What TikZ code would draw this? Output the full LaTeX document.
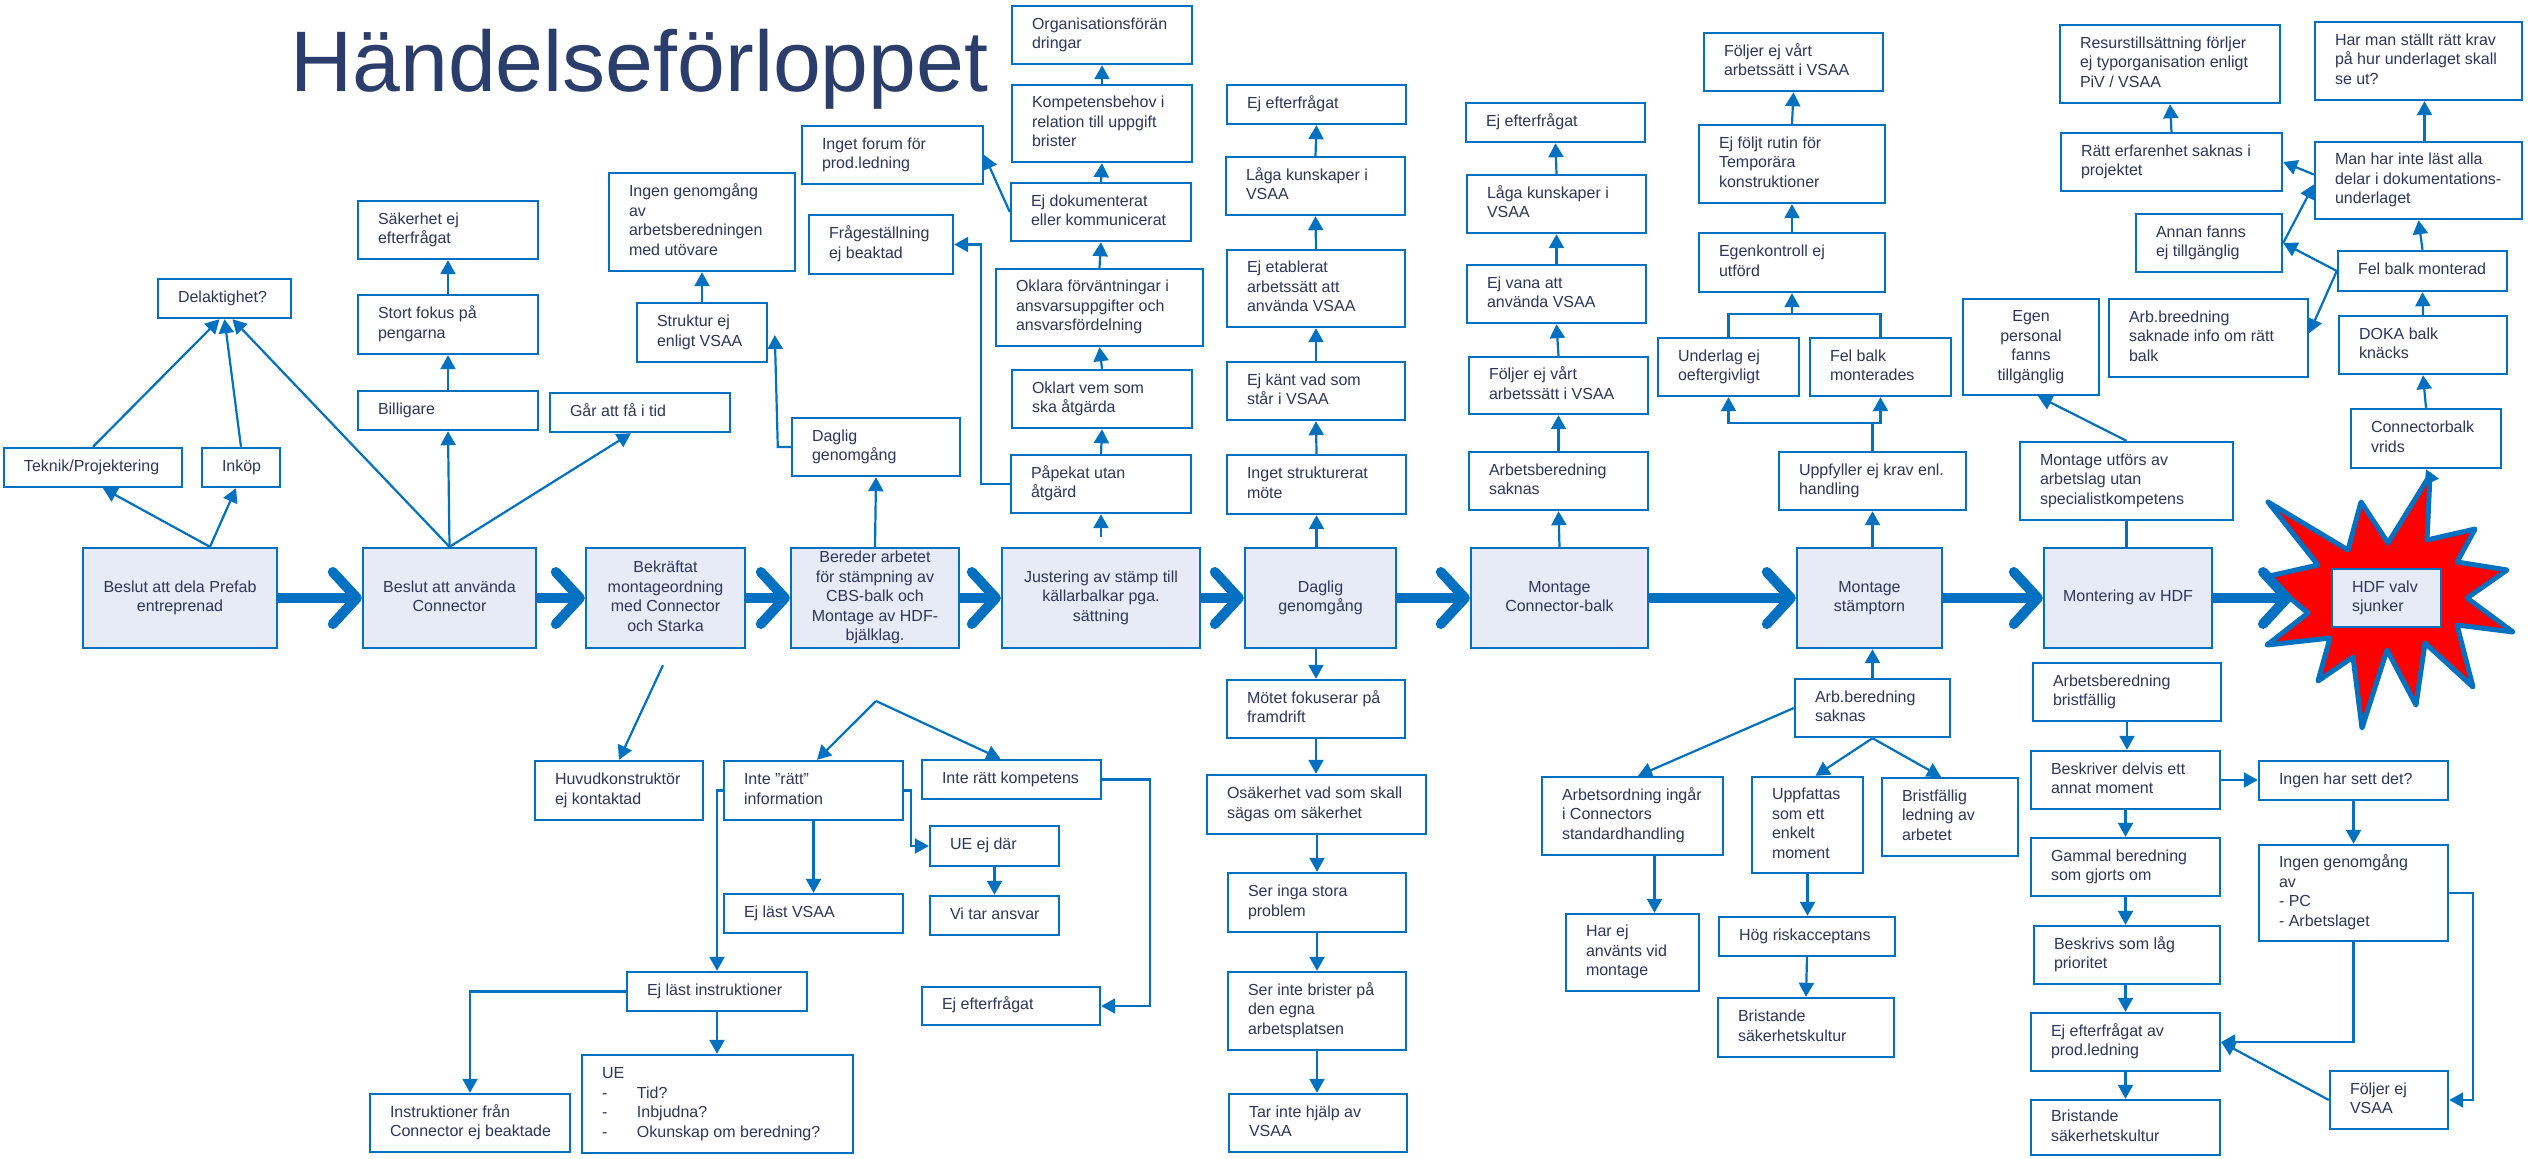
\documentclass[tikz,border=0pt]{standalone}
\usepackage{fontspec}
\setmainfont{Liberation Sans}
\usetikzlibrary{arrows.meta,calc}
\definecolor{bl}{RGB}{0,112,192}
\definecolor{mfill}{RGB}{231,235,246}
\definecolor{tc}{RGB}{45,55,90}
\definecolor{titc}{RGB}{43,61,107}
\newcommand\mkb[8]{%
 \pgfmathsetmacro\mkbw{(#6-#4)*0.5}%
 \pgfmathsetmacro\mkbh{(#7-#5)*0.5}%
 \pgfmathsetmacro\mktw{\mkbw-20}%
 \node[box,#2,minimum width=\mkbw pt,minimum height=\mkbh pt] (#3) at ({(#4+#6)/2},{(#5+#7)/2}) {\makebox[\mktw pt][#1]{\begin{tabular}{@{}#1@{}}#8\end{tabular}}};}
\begin{document}
\begin{tikzpicture}[x=0.5pt,y=-0.5pt,
 box/.style={draw=bl,line width=1.2pt,fill=white,inner xsep=10pt,inner ysep=0pt,font=\fontsize{8}{9.75}\selectfont,text=tc},
 main/.style={fill=mfill},
 arr/.style={draw=bl,line width=1.1pt,-{Triangle[length=7pt,width=7.5pt]}},
 ln/.style={draw=bl,line width=1.1pt},
 big/.style={draw=bl,line width=5pt,-{Straight Barb[length=12pt,width=26pt,round]}},
 starst/.style={draw=bl,line width=2.5pt,fill=red,line join=round}]
\path[use as bounding box] (0,0) rectangle (2529,1158);

% title
\node[anchor=base west,inner sep=0pt,font=\fontsize{43}{50}\selectfont,text=titc] (title) at (290,91) {Händelseförloppet};

% star
\draw[starst] (2268,502) -- (2348,550) -- (2361,502) -- (2388,543) -- (2430,475) -- (2427,540) -- (2475,529) -- (2457,562) -- (2507,570) -- (2467,598) -- (2513,632) -- (2457,625) -- (2473,687) -- (2425,643) -- (2416,705) -- (2387,650) -- (2362,728) -- (2353,657) -- (2318,681) -- (2330,638) -- (2267,645) -- (2308,613) -- (2265,577) -- (2318,565) -- cycle;
\coordinate (startop) at (2430,478);
\coordinate (starin) at (2292,598);

% main row
\mkb{c}{main}{m1}{83}{548}{277}{648}{Beslut att dela Prefab\\entreprenad}
\mkb{c}{main}{m2}{363}{548}{536}{648}{Beslut att använda\\Connector}
\mkb{c}{main}{m3}{586}{548}{745}{648}{Bekräftat\\montageordning\\med Connector\\och Starka}
\mkb{c}{main}{m4}{791}{548}{959}{648}{Bereder arbetet\\för stämpning av\\CBS-balk och\\Montage av HDF-\\bjälklag.}
\mkb{c}{main}{m5}{1002}{548}{1200}{648}{Justering av stämp till\\källarbalkar pga.\\sättning}
\mkb{c}{main}{m6}{1245}{548}{1396}{648}{Daglig\\genomgång}
\mkb{c}{main}{m7}{1471}{548}{1648}{648}{Montage\\Connector-balk}
\mkb{c}{main}{m8}{1797}{548}{1942}{648}{Montage\\stämptorn}
\mkb{c}{main}{m9}{2044}{548}{2212}{648}{Montering av HDF}
\mkb{l}{main}{hdf}{2332}{569}{2441}{627}{HDF valv\\sjunker}

% top left
\mkb{l}{}{delak}{158}{279}{291}{318}{Delaktighet?}
\mkb{l}{}{tek}{4}{448}{182}{487}{Teknik/Projektering}
\mkb{l}{}{inkop}{202}{448}{280}{487}{Inköp}
\mkb{l}{}{sak}{358}{201}{538}{259}{Säkerhet ej\\efterfrågat}
\mkb{l}{}{stort}{358}{295}{538}{354}{Stort fokus på\\pengarna}
\mkb{l}{}{bil}{358}{391}{538}{430}{Billigare}
\mkb{l}{}{gar}{550}{393}{730}{432}{Går att få i tid}
\mkb{l}{}{ingen}{609}{173}{795}{271}{Ingen genomgång\\av\\arbetsberedningen\\med utövare}
\mkb{l}{}{strukt}{637}{303}{767}{362}{Struktur ej\\enligt VSAA}
\mkb{l}{}{dag2}{792}{418}{960}{476}{Daglig\\genomgång}
\mkb{l}{}{forum}{802}{126}{983}{184}{Inget forum för\\prod.ledning}
\mkb{l}{}{fraga}{809}{215}{953}{274}{Frågeställning\\ej beaktad}
\mkb{l}{}{org}{1012}{6}{1192}{64}{Organisationsförän\\dringar}
\mkb{l}{}{komp}{1012}{85}{1192}{162}{Kompetensbehov i\\relation till uppgift\\brister}
\mkb{l}{}{ejdok}{1011}{183}{1191}{241}{Ej dokumenterat\\eller kommunicerat}
\mkb{l}{}{oklara}{996}{269}{1203}{346}{Oklara förväntningar i\\ansvarsuppgifter och\\ansvarsfördelning}
\mkb{l}{}{oklart}{1012}{370}{1192}{428}{Oklart vem som\\ska åtgärda}
\mkb{l}{}{pap}{1011}{455}{1191}{513}{Påpekat utan\\åtgärd}

% daglig column
\mkb{l}{}{eje1}{1227}{85}{1406}{124}{Ej efterfrågat}
\mkb{l}{}{laga1}{1226}{157}{1405}{215}{Låga kunskaper i\\VSAA}
\mkb{l}{}{etab}{1227}{250}{1405}{327}{Ej etablerat\\arbetssätt att\\använda VSAA}
\mkb{l}{}{kant}{1227}{362}{1405}{420}{Ej känt vad som\\står i VSAA}
\mkb{l}{}{inget}{1227}{455}{1406}{514}{Inget strukturerat\\möte}

% montage connector column
\mkb{l}{}{eje2}{1466}{103}{1645}{142}{Ej efterfrågat}
\mkb{l}{}{laga2}{1467}{175}{1646}{233}{Låga kunskaper i\\VSAA}
\mkb{l}{}{vana}{1467}{265}{1646}{323}{Ej vana att\\använda VSAA}
\mkb{l}{}{folj1}{1469}{357}{1648}{414}{Följer ej vårt\\arbetssätt i VSAA}
\mkb{l}{}{arbs}{1469}{452}{1648}{510}{Arbetsberedning\\saknas}

% stämptorn column
\mkb{l}{}{folj2}{1704}{33}{1883}{91}{Följer ej vårt\\arbetssätt i VSAA}
\mkb{l}{}{rutin}{1699}{125}{1885}{203}{Ej följt rutin för\\Temporära\\konstruktioner}
\mkb{l}{}{egenk}{1699}{233}{1885}{292}{Egenkontroll ej\\utförd}
\mkb{l}{}{underl}{1658}{338}{1799}{396}{Underlag ej\\oeftergivligt}
\mkb{l}{}{felb1}{1810}{338}{1951}{396}{Fel balk\\monterades}
\mkb{l}{}{uppf}{1779}{452}{1966}{510}{Uppfyller ej krav enl.\\handling}

% right
\mkb{c}{}{egenp}{1963}{299}{2099}{395}{Egen\\personal\\fanns\\tillgänglig}
\mkb{l}{}{mutf}{2020}{442}{2233}{520}{Montage utförs av\\arbetslag utan\\specialistkompetens}
\mkb{l}{}{resurs}{2060}{25}{2280}{103}{Resurstillsättning förljer\\ej typorganisation enligt\\PiV / VSAA}
\mkb{l}{}{ratt}{2061}{133}{2282}{191}{Rätt erfarenhet saknas i\\projektet}
\mkb{l}{}{annan}{2136}{214}{2282}{272}{Annan fanns\\ej tillgänglig}
\mkb{l}{}{arbb}{2109}{299}{2308}{377}{Arb.breedning\\saknade info om rätt\\balk}
\mkb{l}{}{harman}{2315}{22}{2522}{100}{Har man ställt rätt krav\\på hur underlaget skall\\se ut?}
\mkb{l}{}{manhar}{2315}{142}{2522}{219}{Man har inte läst alla\\delar i dokumentations-\\underlaget}
\mkb{l}{}{felb2}{2338}{251}{2507}{291}{Fel balk monterad}
\mkb{l}{}{doka}{2339}{316}{2507}{374}{DOKA balk\\knäcks}
\mkb{l}{}{connb}{2351}{409}{2501}{468}{Connectorbalk\\vrids}

% bottom left
\mkb{l}{}{hk}{535}{761}{703}{820}{Huvudkonstruktör\\ej kontaktad}
\mkb{l}{}{info}{724}{761}{903}{820}{Inte ”rätt”\\information}
\mkb{l}{}{kompe}{922}{760}{1101}{799}{Inte rätt kompetens}
\mkb{l}{}{uedar}{930}{826}{1059}{866}{UE ej där}
\mkb{l}{}{vitar}{930}{896}{1059}{935}{Vi tar ansvar}
\mkb{l}{}{ejvsaa}{724}{894}{903}{933}{Ej läst VSAA}
\mkb{l}{}{ejinstr}{627}{972}{807}{1011}{Ej läst instruktioner}
\mkb{l}{}{eje3}{922}{987}{1100}{1025}{Ej efterfrågat}
\mkb{l}{}{instr}{370}{1094}{570}{1152}{Instruktioner från\\Connector ej beaktade}
\mkb{l}{}{ue}{582}{1055}{853}{1153}{UE\\\makebox[17.5pt][l]{-}Tid?\\\makebox[17.5pt][l]{-}Inbjudna?\\\makebox[17.5pt][l]{-}Okunskap om beredning?}

% daglig bottom
\mkb{l}{}{motet}{1227}{680}{1405}{738}{Mötet fokuserar på\\framdrift}
\mkb{l}{}{osak}{1207}{775}{1426}{834}{Osäkerhet vad som skall\\sägas om säkerhet}
\mkb{l}{}{seringa}{1228}{873}{1406}{932}{Ser inga stora\\problem}
\mkb{l}{}{serinte}{1228}{972}{1406}{1050}{Ser inte brister på\\den egna\\arbetsplatsen}
\mkb{l}{}{tar}{1229}{1094}{1407}{1152}{Tar inte hjälp av\\VSAA}

% stämptorn bottom
\mkb{l}{}{arbs2}{1795}{679}{1950}{737}{Arb.beredning\\saknas}
\mkb{l}{}{arbord}{1542}{777}{1723}{855}{Arbetsordning ingår\\i Connectors\\standardhandling}
\mkb{l}{}{uppf2}{1752}{777}{1863}{873}{Uppfattas\\som ett\\enkelt\\moment}
\mkb{l}{}{bristl}{1882}{778}{2018}{856}{Bristfällig\\ledning av\\arbetet}
\mkb{l}{}{harej}{1566}{914}{1699}{991}{Har ej\\använts vid\\montage}
\mkb{l}{}{hog}{1719}{917}{1895}{956}{Hög riskacceptans}
\mkb{l}{}{brist2}{1718}{998}{1894}{1057}{Bristande\\säkerhetskultur}

% HDF bottom
\mkb{l}{}{arbbr}{2033}{663}{2221}{721}{Arbetsberedning\\bristfällig}
\mkb{l}{}{besk}{2031}{751}{2220}{809}{Beskriver delvis ett\\annat moment}
\mkb{l}{}{gammal}{2031}{838}{2220}{896}{Gammal beredning\\som gjorts om}
\mkb{l}{}{beskl}{2034}{926}{2220}{984}{Beskrivs som låg\\prioritet}
\mkb{l}{}{ejeftp}{2031}{1013}{2220}{1071}{Ej efterfrågat av\\prod.ledning}
\mkb{l}{}{brist3}{2031}{1100}{2220}{1155}{Bristande\\säkerhetskultur}
\mkb{l}{}{ingenhar}{2259}{761}{2448}{800}{Ingen har sett det?}
\mkb{l}{}{ingengen}{2259}{845}{2448}{941}{Ingen genomgång\\av\\- PC\\- Arbetslaget}
\mkb{l}{}{foljv}{2330}{1071}{2448}{1129}{Följer ej\\VSAA}

% big arrows
\draw[big] (m1.east) -- (m2.west);
\draw[big] (m2.east) -- (m3.west);
\draw[big] (m3.east) -- (m4.west);
\draw[big] (m4.east) -- (m5.west);
\draw[big] (m5.east) -- (m6.west);
\draw[big] (m6.east) -- (m7.west);
\draw[big] (m7.east) -- (m8.west);
\draw[big] (m8.east) -- (m9.west);
\draw[big] (m9.east) -- (starin);

% top-left connectors
\draw[arr] ([xshift=15pt]m1.north) -- ([xshift=5pt]tek.south);
\draw[arr] ([xshift=15pt]m1.north) -- ([xshift=-2.5pt]inkop.south);
\draw[arr] (tek.north) -- ([xshift=-2.5pt]delak.south);
\draw[arr] (inkop.north) -- (delak.south);
\draw[arr] (m2.north) -- ([xshift=4pt]delak.south);
\draw[arr] (m2.north) -- (bil.south);
\draw[arr] (bil.north) -- (stort.south);
\draw[arr] (stort.north) -- (sak.south);
\draw[arr] (m2.north) -- ([xshift=-4.5pt]gar.south);
\draw[arr] (strukt.north) -- (ingen.south);
\draw[arr] (dag2.west) -- ++(-6.5pt,0) -- ++(-1.5pt,56pt);
\draw[arr] (m4.north) -- (dag2.south);
\draw[arr,shorten <=5pt] (m5.north) -- (pap.south);
\draw[arr] (pap.north) -- (oklart.south);
\draw[arr] (oklart.north) -- (oklara.south);
\draw[arr] (oklara.north) -- (ejdok.south);
\draw[arr] (ejdok.north) -- (komp.south);
\draw[arr] (komp.north) -- (org.south);
\draw[arr] (pap.west) -- ++(-14.5pt,0) |- (fraga.east);
\draw[arr] (ejdok.west) -- (forum.east);

% daglig column
\draw[arr] (m6.north -| inget.south) -- (inget.south);
\draw[arr] (inget.north) -- (kant.south);
\draw[arr] (kant.north) -- (etab.south);
\draw[arr] (etab.north) -- (laga1.south);
\draw[arr] (laga1.north) -- (eje1.south);

% montage connector column
\draw[arr] (m7.north) -- (arbs.south);
\draw[arr] (arbs.north) -- (folj1.south);
\draw[arr] (folj1.north) -- (vana.south);
\draw[arr] (vana.north) -- (laga2.south);
\draw[arr] (laga2.north) -- (eje2.south);

% stämptorn column
\draw[arr] (m8.north -| uppf.south) -- (uppf.south);
\path (uppf.north) ++(0,14pt) coordinate (j1);
\draw[ln] (uppf.north) -- (j1);
\draw[arr] (j1) -| (underl.south);
\draw[arr] (j1) -| (felb1.south);
\path (underl.north) ++(0,11.5pt) coordinate (j2);
\draw[ln] (underl.north) -- (j2) -| (felb1.north);
\draw[arr] (egenk.south |- j2) -- (egenk.south);
\draw[arr] (egenk.north) -- (rutin.south);
\draw[arr] (rutin.north) -- (folj2.south);

% right connectors
\draw[ln] (mutf.south) -- (mutf.south |- m9.north);
\draw[arr] (mutf.north) -- ([xshift=3.5pt]egenp.south);
\draw[arr] (ratt.north) -- (resurs.south);
\draw[arr] ([xshift=3pt]manhar.north) -- ([xshift=3pt]harman.south);
\draw[arr] (felb2.north) -- (manhar.south);
\draw[arr] (doka.north) -- (felb2.south);
\draw[arr] (connb.north) -- (doka.south);
\draw[arr] (startop) -- (connb.south);
\draw[arr] ([yshift=3pt]manhar.west) -- (ratt.east);
\draw[arr] (annan.east) -- ([yshift=-2pt]manhar.west);
\draw[arr] (felb2.west) -- (annan.east);
\draw[arr] (felb2.west) -- ([yshift=2.5pt]arbb.east);

% bottom-left connectors
\draw[arr] ([xshift=-1.25pt,yshift=-8pt]m3.south) -- (hk.north);
\coordinate (apex) at (876,701);
\draw[arr] (apex) -- ([xshift=1.75pt]info.north);
\draw[arr] (apex) -- ([xshift=-5.5pt]kompe.north);
\draw[arr] (info.south) -- (ejvsaa.north);
\draw[arr] (info.east) -- ++(3.5pt,0) |- (uedar.west);
\draw[arr] (info.west) -| (ejinstr.north);
\draw[arr] (uedar.south) -- (vitar.north);
\draw[arr] (kompe.east) -- ++(24pt,0) |- (eje3.east);
\draw[arr] (ejinstr.west) -| (instr.north);
\draw[arr] (ejinstr.south) -- (ejinstr.south |- ue.north);

% daglig bottom
\draw[arr] (m6.south -| motet.north) -- (motet.north);
\draw[arr] (motet.south) -- (motet.south |- osak.north);
\draw[arr] (osak.south -| seringa.north) -- (seringa.north);
\draw[arr] (seringa.south) -- (serinte.north);
\draw[arr] (serinte.south) -- (serinte.south |- tar.north);

% stämptorn bottom
\draw[arr] (arbs2.north) -- (arbs2.north |- m8.south);
\draw[arr] (arbs2.west) -- ([xshift=2.75pt]arbord.north);
\draw[arr] (arbs2.south) -- ([xshift=4pt]uppf2.north);
\draw[arr] (arbs2.south) -- ([xshift=-4.5pt]bristl.north);
\draw[arr] ([xshift=11pt]arbord.south) -- ([xshift=11pt]arbord.south |- harej.north);
\draw[arr] (uppf2.south) -- (uppf2.south |- hog.north);
\draw[arr] (hog.south) -- (brist2.north);

% HDF bottom
\draw[arr] (arbbr.south) -- (arbbr.south |- besk.north);
\draw[arr] (besk.south) -- (gammal.north);
\draw[arr] (gammal.south) -- (gammal.south |- beskl.north);
\draw[arr] (beskl.south -| ejeftp.north) -- (ejeftp.north);
\draw[arr] (ejeftp.south) -- (brist3.north);
\draw[arr] (besk.east) -- (besk.east -| ingenhar.west);
\draw[arr] (ingenhar.south) -- (ingengen.north);
\draw[arr] (ingengen.south) |- (ejeftp.east);
\draw[arr] (ingengen.east) -- ++(12pt,0) |- (foljv.east);
\draw[arr] (foljv.west) -- (ejeftp.east);
\end{tikzpicture}
\end{document}
